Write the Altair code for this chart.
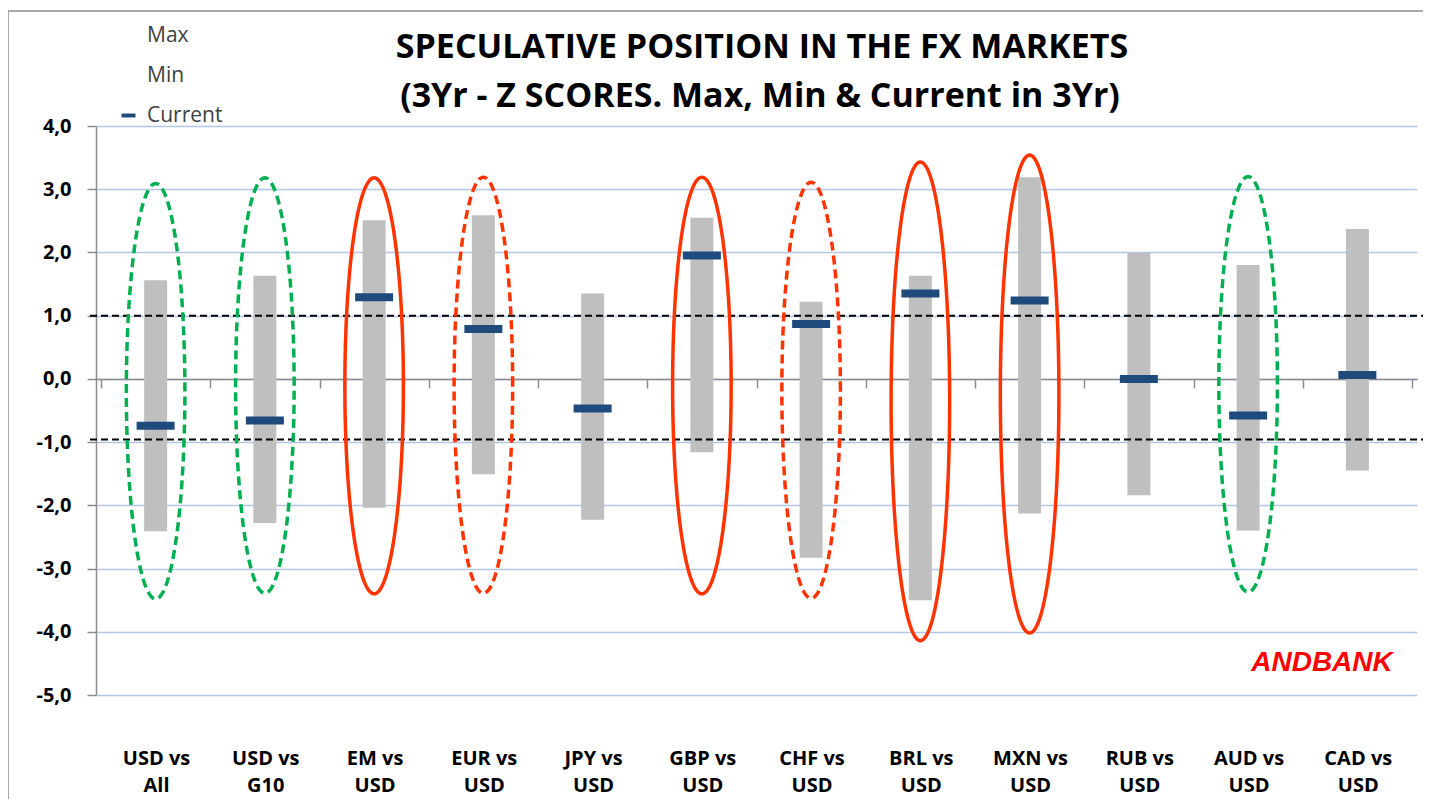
import altair as alt
import pandas as pd
import numpy as np

# ---------------- data ----------------
categories = ["USD vs All", "USD vs G10", "EM vs USD", "EUR vs USD", "JPY vs USD", "GBP vs USD",
              "CHF vs USD", "BRL vs USD", "MXN vs USD", "RUB vs USD", "AUD vs USD", "CAD vs USD"]
max_vals = [1.56, 1.63, 2.51, 2.59, 1.35, 2.55, 1.22, 1.63, 3.19, 1.99, 1.80, 2.37]
min_vals = [-2.41, -2.28, -2.04, -1.51, -2.23, -1.16, -2.83, -3.50, -2.13, -1.84, -2.40, -1.45]
current_vals = [-0.74, -0.66, 1.29, 0.79, -0.47, 1.95, 0.87, 1.35, 1.24, 0.00, -0.58, 0.06]

threshold_vals = [1.0, -0.96]
y_ticks = [-5, -4, -3, -2, -1, 0, 1, 2, 3, 4]

ellipse_cats = ["USD vs All", "USD vs G10", "EM vs USD", "EUR vs USD", "GBP vs USD",
                "CHF vs USD", "BRL vs USD", "MXN vs USD", "AUD vs USD"]
ellipse_top = [3.09, 3.18, 3.18, 3.19, 3.19, 3.11, 3.43, 3.54, 3.20]
ellipse_bottom = [-3.48, -3.39, -3.40, -3.39, -3.40, -3.47, -4.14, -4.02, -3.37]
ellipse_color = ["#00B050", "#00B050", "#FF3300", "#FF3300", "#FF3300",
                 "#FF3300", "#FF3300", "#FF3300", "#00B050"]
ellipse_dashed = [True, True, False, True, False, True, False, False, True]

title_lines = ["SPECULATIVE POSITION IN THE FX MARKETS",
               "(3Yr - Z SCORES. Max, Min & Current in 3Yr)"]
legend_labels = ["Max", "Min", "Current"]
watermark = "ANDBANK"

# ---------------- layout ----------------
W, H = 1321, 569
YMIN, YMAX = -5, 4
n = len(categories)
step = W / n
zero_offset = -H * (0 - YMIN) / (YMAX - YMIN)
FONT = "Open Sans"

df = pd.DataFrame({
    "idx": list(range(n)),
    "cat": categories,
    "max": max_vals,
    "min": min_vals,
    "current": current_vals,
    "series": ["Current"] * n,
})

# ellipse outlines built from the annotation arrays
half_w = 29.5 / step
rows = []
for k, c in enumerate(ellipse_cats):
    cx = categories.index(c)
    cy = (ellipse_top[k] + ellipse_bottom[k]) / 2
    ry = (ellipse_top[k] - ellipse_bottom[k]) / 2
    for j, t in enumerate(np.linspace(0, 2 * np.pi, 181)):
        rows.append({"eid": k, "o": j, "ex": cx + half_w * np.cos(t), "ey": cy + ry * np.sin(t),
                     "col": ellipse_color[k], "dashed": ellipse_dashed[k]})
edf = pd.DataFrame(rows)

label_arr = ",".join(
    "['" + c.split(" vs ")[0] + " vs','" + c.split(" vs ")[1] + "']" for c in categories
) + ",''"
x_label_expr = "[" + label_arr + "][round(datum.value + 0.5)]"

x_scale = alt.Scale(domain=[-0.5, n - 0.5], nice=False, zero=False)
y_scale = alt.Scale(domain=[YMIN, YMAX], nice=False)

x_axis = alt.Axis(
    values=[i - 0.5 for i in range(n + 1)],
    title=None, grid=False, offset=zero_offset,
    domainColor="#8C8C8C", domainWidth=1.5, tickColor="#8C8C8C", tickWidth=1.5, tickSize=9,
    labelExpr=x_label_expr, labelOffset=step / 2, labelPadding=361, labelBaseline="top",
    labelLineHeight=27, labelFont=FONT, labelFontSize=20, labelFontWeight="bold",
    labelColor="#000000", labelFlush=False, labelOverlap=False, labelBound=False,
)
y_axis = alt.Axis(
    values=y_ticks, title=None, grid=True, gridColor="#B4C6E7", gridWidth=1.3,
    domainColor="#8C8C8C", domainWidth=1.5, tickColor="#8C8C8C", tickWidth=1.5, tickSize=9,
    labelExpr="replace((datum.value < 0 ? '-' : '') + format(abs(datum.value), '.1f'), '.', ',')",
    labelPadding=16, labelFont=FONT, labelFontSize=20, labelFontWeight="bold", labelColor="#000000",
)

base = alt.Chart(df)
one = pd.DataFrame({"a": [0]})

border_top = alt.Chart(one).mark_rule(color="#8C8C8C", strokeWidth=1.5).encode(
    x=alt.value(-88), x2=alt.value(W + 40), y=alt.value(-115))
border_left = alt.Chart(one).mark_rule(color="#8C8C8C", strokeWidth=1.5).encode(
    x=alt.value(-88), y=alt.value(-115), y2=alt.value(H + 250))

bars = base.mark_bar(color="#BFBFBF", size=23).encode(
    x=alt.X("idx:Q", scale=x_scale, axis=x_axis),
    y=alt.Y("min:Q", scale=y_scale, axis=y_axis),
    y2="max:Q",
)

thr = alt.Chart(pd.DataFrame({"v": threshold_vals})).mark_rule(
    color="#000000", strokeWidth=2, strokeDash=[7, 4]
).encode(y=alt.Y("v:Q", scale=y_scale), x=alt.value(-6), x2=alt.value(W + 20))

legend = alt.Legend(
    title=None, orient="none", legendX=22, legendY=-101, direction="vertical",
    symbolType="M-1,-0.28H1V0.28H-1Z", symbolSize=196, symbolStrokeWidth=0,
    labelFont=FONT, labelFontSize=21, labelColor="#404040", labelOffset=8,
    rowPadding=18, labelLimit=200,
)
ticks = base.mark_tick(orient="horizontal", size=38, thickness=8, opacity=1).encode(
    x=alt.X("idx:Q", scale=x_scale),
    y=alt.Y("current:Q", scale=y_scale),
    color=alt.Color("series:N", scale=alt.Scale(domain=legend_labels,
                                                  range=["rgba(0,0,0,0)", "rgba(0,0,0,0)", "#1F4A7C"]),
                    legend=legend),
)

ell_solid = alt.Chart(edf[~edf["dashed"]]).mark_line(strokeWidth=3.5).encode(
    x=alt.X("ex:Q", scale=x_scale), y=alt.Y("ey:Q", scale=y_scale),
    order="o:Q", detail="eid:N", color=alt.Color("col:N", scale=None),
)
ell_dash = alt.Chart(edf[edf["dashed"]]).mark_line(strokeWidth=3.5, strokeDash=[9, 5]).encode(
    x=alt.X("ex:Q", scale=x_scale), y=alt.Y("ey:Q", scale=y_scale),
    order="o:Q", detail="eid:N", color=alt.Color("col:N", scale=None),
)

andbank = alt.Chart(pd.DataFrame({"t": [watermark]})).mark_text(
    font="Liberation Sans", fontSize=28, fontWeight="bold", fontStyle="italic",
    color="#FF0000", align="center", baseline="middle"
).encode(text="t:N", x=alt.value(1322 - 96), y=alt.value(663 - 126))

title1 = alt.Chart(pd.DataFrame({"t": [title_lines[0]]})).mark_text(
    font=FONT, fontSize=34, fontWeight="bold", color="#000000", align="center", baseline="middle"
).encode(text="t:N", x=alt.value(762 - 96), y=alt.value(48 - 126))
title2 = alt.Chart(pd.DataFrame({"t": [title_lines[1]]})).mark_text(
    font=FONT, fontSize=34, fontWeight="bold", color="#000000", align="center", baseline="middle"
).encode(text="t:N", x=alt.value(760 - 96), y=alt.value(97 - 126))

chart = alt.layer(border_top, border_left, bars, thr, ticks, ell_solid, ell_dash,
                  andbank, title1, title2).resolve_scale(
    color="independent"
).properties(
    width=W, height=H,
    autosize=alt.AutoSizeParams(type="none"),
    padding={"left": 88, "top": 118, "right": 6, "bottom": 104},
    background="white",
).configure_view(stroke=None)

chart.save("out.html", embed_options={"renderer": "svg", "actions": False})
